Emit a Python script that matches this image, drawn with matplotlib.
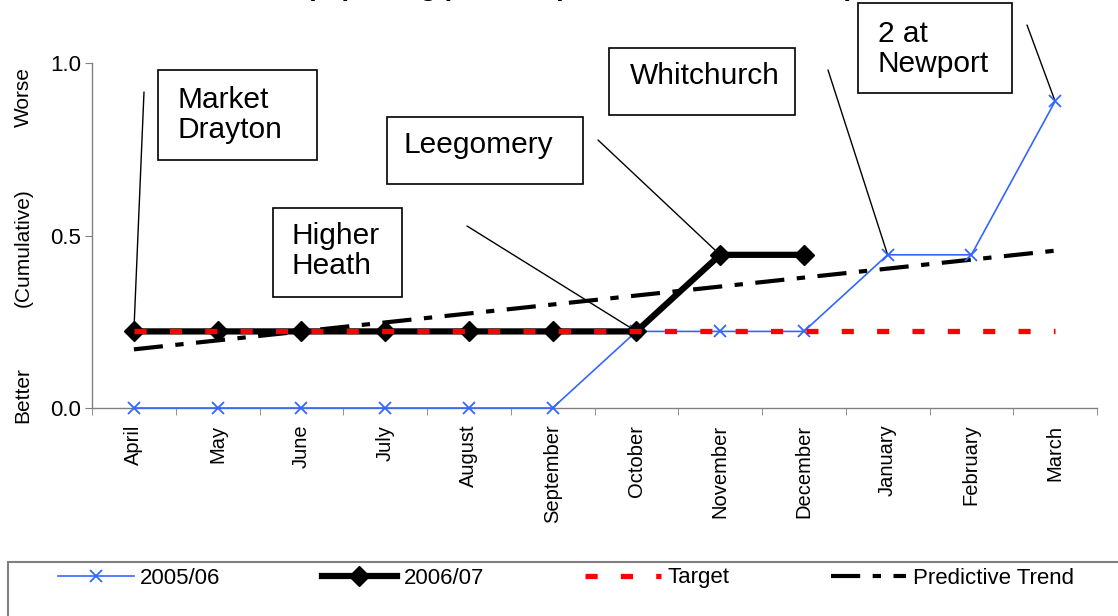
import matplotlib
matplotlib.use('Agg')
import matplotlib.pyplot as plt
from matplotlib.patches import Rectangle
from matplotlib.ticker import FormatStrFormatter

plt.rcParams['font.family'] = ['Liberation Sans', 'DejaVu Sans']

# Datos
meses = ['April', 'May', 'June', 'July', 'August', 'September',
         'October', 'November', 'December', 'January', 'February', 'March']
serie_0506 = [0.0, 0.0, 0.0, 0.0, 0.0, 0.0, 0.222, 0.222, 0.222, 0.444, 0.444, 0.889]
serie_0607 = [0.222, 0.222, 0.222, 0.222, 0.222, 0.222, 0.222, 0.444, 0.444]
objetivo = [0.222] * 12
tendencia = [0.17, 0.196, 0.222, 0.248, 0.274, 0.300, 0.326, 0.352, 0.378, 0.404, 0.430, 0.456]

# Notas: texto, mes, serie
notas = [
    ("Market\nDrayton", 0, serie_0607),
    ("Higher\nHeath", 6, serie_0607),
    ("Leegomery", 7, serie_0607),
    ("Whitchurch", 9, serie_0506),
    ("2 at\nNewport", 11, serie_0506),
]
# caja (x0, y0, x1, y1), texto (x, y), inicio de la linea (x, y) en pixeles
cajas = [
    ((158, 70, 317, 160), (178, 86), (144, 92)),
    ((273, 208, 402, 297), (291, 222), (467, 226)),
    ((387, 117, 583, 184), (404, 131), (598, 140)),
    ((609, 48, 795, 115), (630, 62), (828, 70)),
    ((858, 3, 1012, 93), (878, 20), (1027, 25)),
]

W, H = 1118, 616


def fx(px):
    return px / W


def fy(py):
    return 1 - py / H


fig = plt.figure(figsize=(W / 100, H / 100), dpi=100)
fig.patch.set_facecolor('white')
ax = fig.add_axes([fx(92), fy(408), fx(1097) - fx(92), fy(63) - fy(408)])

x = list(range(len(meses)))
azul, = ax.plot(x, serie_0506, color='#3366FF', lw=1.2, marker='x', ms=8.5, mew=1.3,
                zorder=3, clip_on=False, label='2005/06')
negro, = ax.plot(x[:len(serie_0607)], serie_0607, color='black', lw=4.5, marker='D', ms=10,
                 zorder=4, clip_on=False, label='2006/07')
rojo, = ax.plot(x, objetivo, color='#FF0000', lw=3.8, dashes=(2.3, 4.4), zorder=5,
                label='Target')
trend, = ax.plot(x, tendencia, color='black', lw=3, dashes=(7, 3, 2, 3), zorder=2,
                 label='Predictive Trend')

ax.set_xlim(-0.5, 11.5)
ax.set_ylim(0, 1.0)
ax.set_yticks([0, 0.5, 1.0])
ax.yaxis.set_major_formatter(FormatStrFormatter('%.1f'))
ax.set_xticks(x)
ax.set_xticklabels(meses, rotation=90, fontsize=14.5, va='top', ha='center')
ax.set_xticks([i + 0.5 for i in range(-1, 12)], minor=True)
ax.tick_params(axis='x', which='major', length=0, pad=12)
ax.tick_params(axis='x', which='minor', length=5, direction='out', color='#808080')
ax.tick_params(axis='y', length=5, direction='out', color='#808080', labelsize=16, pad=3)
for lado in ['top', 'right']:
    ax.spines[lado].set_visible(False)
for lado in ['left', 'bottom']:
    ax.spines[lado].set_color('#808080')
    ax.spines[lado].set_linewidth(1)

# Etiquetas del eje Y
fig.text(fx(23), fy(97), 'Worse', rotation=90, fontsize=15, ha='center', va='center')
fig.text(fx(23), fy(248), '(Cumulative)', rotation=90, fontsize=15, ha='center', va='center')
fig.text(fx(23), fy(395), 'Better', rotation=90, fontsize=15, ha='center', va='center')

# Titulo (cortado en la parte superior, como en el original)
fig.text(fx(580), 1 + 5 / H, '(reporting period April 2006 - March 2007)',
         fontsize=20, fontweight='bold', ha='center', va='baseline')

# Cajas con notas y lineas
for (texto, idx, serie), (caja, pos, inicio) in zip(notas, cajas):
    x0, y0, x1, y1 = caja
    fig.add_artist(Rectangle((fx(x0), fy(y1)), fx(x1) - fx(x0), fy(y0) - fy(y1),
                             transform=fig.transFigure, fill=False, ec='black', lw=1.2))
    fig.text(fx(pos[0]), fy(pos[1]), texto, fontsize=21.5, ha='left', va='top',
             linespacing=1.1)
    ax.annotate('', xy=(idx, serie[idx]), xycoords='data',
                xytext=(inicio[0], H - inicio[1]), textcoords='figure pixels',
                arrowprops=dict(arrowstyle='-', color='black', lw=1, shrinkA=0, shrinkB=0),
                annotation_clip=False, zorder=1)

# Leyenda
fig.add_artist(Rectangle((fx(8), -0.1), 1.1, fy(562) + 0.1, transform=fig.transFigure,
                         fill=False, ec='#808080', lw=1.5))
fig.legend([azul, negro, rojo, trend], ['2005/06', '2006/07', 'Target', 'Predictive Trend'],
           ncol=4, loc='center left', bbox_to_anchor=(fx(58), fy(578)), frameon=False,
           fontsize=16, handlelength=3.4, handletextpad=0.3, columnspacing=4.55,
           borderpad=0, borderaxespad=0)

plt.savefig('out.png', dpi=100)
plt.close()
